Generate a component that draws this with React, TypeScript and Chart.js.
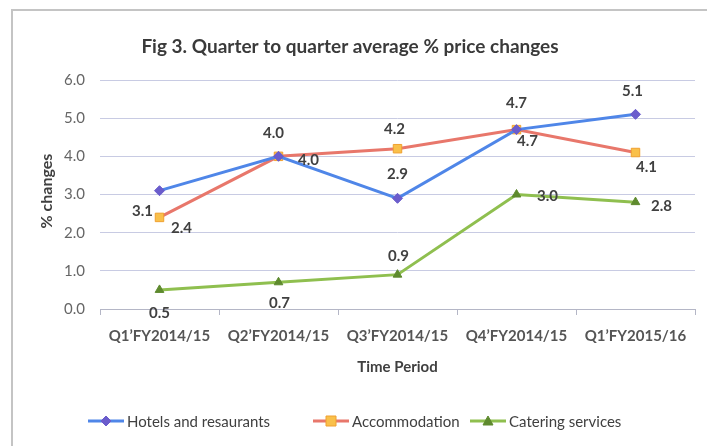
import React, { useEffect, useRef } from "react";
import { Chart, registerables } from "chart.js";

Chart.register(...registerables);

const categories = ["Q1’FY2014/15", "Q2’FY2014/15", "Q3’FY2014/15", "Q4’FY2014/15", "Q1’FY2015/16"];
const hotels = [3.1, 4.0, 2.9, 4.7, 5.1];
const accommodation = [2.4, 4.0, 4.2, 4.7, 4.1];
const catering = [0.5, 0.7, 0.9, 3.0, 2.8];
const seriesNames = ["Hotels and resaurants", "Accommodation", "Catering services"];
const yTicks = [0, 1, 2, 3, 4, 5, 6];
const titleText = "Fig 3. Quarter to quarter average % price changes";
const yTitle = "% changes";
const xTitle = "Time Period";

// label placement offsets (dx, dy) relative to each point
const labelOffsets = [
  [[-17, 20], [-5, -23], [0, -24], [0, -26], [-3, -23]],
  [[22, 11], [30, 4], [-3, -20], [11, 12], [11, 15]],
  [[0, 23], [1, 21], [1, -18], [31, 2], [26, 4]],
];

const FONT = "Lato, 'Liberation Sans', sans-serif";
const TEXT = "#404040";

const lineColors = ["#4f86e8", "#e8776b", "#8fbf4f"];
const markerFill = ["#6a5ccc", "#f9c04a", "#5e8a2e"];
const markerStroke = ["#6a5ccc", "#f0a030", "#5e8a2e"];
const markerStyle = ["rectRot", "rect", "triangle"];

function drawMarker(ctx: CanvasRenderingContext2D, i: number, x: number, y: number) {
  ctx.save();
  ctx.fillStyle = markerFill[i];
  ctx.strokeStyle = markerStroke[i];
  ctx.lineWidth = 1;
  ctx.beginPath();
  if (i === 0) {
    ctx.moveTo(x, y - 5); ctx.lineTo(x + 5, y); ctx.lineTo(x, y + 5); ctx.lineTo(x - 5, y); ctx.closePath();
  } else if (i === 1) {
    ctx.rect(x - 5, y - 5, 10, 10);
  } else {
    ctx.moveTo(x, y - 5); ctx.lineTo(x + 5, y + 4); ctx.lineTo(x - 5, y + 4); ctx.closePath();
  }
  ctx.fill();
  ctx.stroke();
  ctx.restore();
}

const decorPlugin = {
  id: "decor",
  beforeDraw(chart: any) {
    const ctx = chart.ctx as CanvasRenderingContext2D;
    ctx.save();
    ctx.fillStyle = "#ffffff";
    ctx.fillRect(0, 0, chart.width, chart.height);
    ctx.strokeStyle = "#c4c4c4";
    ctx.lineWidth = 2;
    ctx.beginPath();
    ctx.moveTo(12, chart.height);
    ctx.lineTo(12, 10);
    ctx.lineTo(chart.width, 10);
    ctx.stroke();
    ctx.restore();
  },
  afterDraw(chart: any) {
    const ctx = chart.ctx as CanvasRenderingContext2D;
    const area = chart.chartArea;
    ctx.save();
    // title
    ctx.fillStyle = "#3a3a3a";
    ctx.font = `bold 19px ${FONT}`;
    ctx.textAlign = "center";
    ctx.textBaseline = "middle";
    ctx.fillText(titleText, 350, 47);
    // y title
    ctx.save();
    ctx.translate(47, 191);
    ctx.rotate(-Math.PI / 2);
    ctx.font = `bold 16px ${FONT}`;
    ctx.fillStyle = TEXT;
    ctx.fillText(yTitle, 0, 0);
    ctx.restore();
    // x title
    ctx.font = `bold 15px ${FONT}`;
    ctx.fillStyle = TEXT;
    ctx.fillText(xTitle, (area.left + area.right) / 2, 367);
    // legend
    const legendX = [88, 313, 470];
    ctx.font = `15px ${FONT}`;
    ctx.textAlign = "left";
    for (let i = 0; i < 3; i++) {
      const lx = legendX[i];
      const ly = 421;
      ctx.strokeStyle = lineColors[i];
      ctx.lineWidth = 3;
      ctx.beginPath();
      ctx.moveTo(lx, ly);
      ctx.lineTo(lx + 36, ly);
      ctx.stroke();
      drawMarker(ctx, i, lx + 18, ly);
      ctx.fillStyle = TEXT;
      ctx.fillText(seriesNames[i], lx + 39, ly + 1);
    }
    ctx.restore();
  },
  afterDatasetsDraw(chart: any) {
    const ctx = chart.ctx as CanvasRenderingContext2D;
    ctx.save();
    ctx.font = `bold 15px ${FONT}`;
    ctx.fillStyle = TEXT;
    ctx.textAlign = "center";
    ctx.textBaseline = "middle";
    chart.data.datasets.forEach((ds: any, di: number) => {
      const meta = chart.getDatasetMeta(di);
      meta.data.forEach((pt: any, pi: number) => {
        const [dx, dy] = labelOffsets[di][pi];
        ctx.fillText(Number(ds.data[pi]).toFixed(1), pt.x + dx, pt.y + dy);
      });
    });
    ctx.restore();
  },
};

export default function App() {
  const ref = useRef<HTMLCanvasElement | null>(null);
  useEffect(() => {
    if (!ref.current) return;
    const series = [hotels, accommodation, catering];
    const chart = new Chart(ref.current, {
      type: "line",
      data: {
        labels: categories,
        datasets: series.map((d, i) => ({
          label: seriesNames[i],
          data: d,
          borderColor: lineColors[i],
          borderWidth: 3,
          backgroundColor: markerFill[i],
          pointBackgroundColor: markerFill[i],
          pointBorderColor: markerStroke[i],
          pointBorderWidth: 1,
          pointStyle: markerStyle[i] as any,
          pointRadius: i === 1 ? 6 : 5,
          tension: 0,
          fill: false,
        })),
      },
      options: {
        responsive: false,
        animation: false,
        layout: { padding: { top: 80, left: 12, right: 12, bottom: 62 } },
        plugins: {
          legend: { display: false },
          title: { display: false },
          tooltip: { enabled: false },
        },
        scales: {
          x: {
            type: "category",
            offset: true,
            afterFit: (s: any) => { s.height = 75; },
            grid: {
              offset: true,
              drawOnChartArea: false,
              drawTicks: true,
              tickLength: 6,
              color: "#b4b6c6",
            },
            border: { display: true, color: "#b4b6c6", width: 1 },
            ticks: {
              padding: 12,
              color: "#555555",
              font: { family: FONT, size: 15, weight: "bold" },
              maxRotation: 0,
              autoSkip: false,
            },
          },
          y: {
            min: 0,
            max: 6,
            afterFit: (s: any) => { s.width = 88; },
            afterBuildTicks: (s: any) => { s.ticks = yTicks.map((v) => ({ value: v })); },
            grid: { color: "#c8cbe3", lineWidth: 1, drawTicks: false },
            border: { display: false },
            ticks: {
              padding: 15,
              color: "#666666",
              font: { family: FONT, size: 15 },
              callback: (v: any) => Number(v).toFixed(1),
            },
          },
        },
      },
      plugins: [decorPlugin],
    });
    return () => chart.destroy();
  }, []);
  return (
    <div style={{ position: "fixed", left: 0, top: 0, width: 707, height: 446, background: "#fff" }}>
      <canvas ref={ref} width={707} height={446} style={{ display: "block", width: 707, height: 446 }} />
    </div>
  );
}
